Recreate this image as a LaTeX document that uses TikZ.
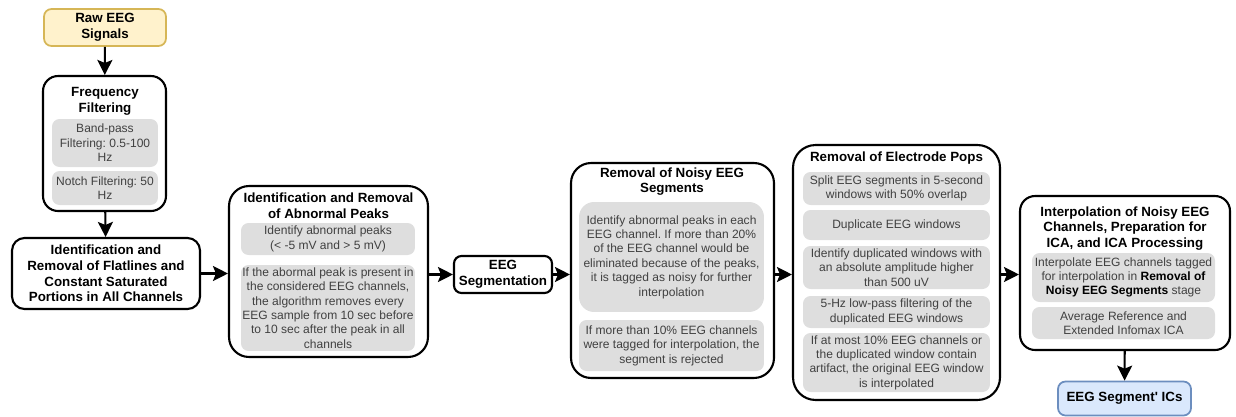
\documentclass[tikz,border=0pt]{standalone}
\usepackage{fontspec}
\setmainfont{Liberation Sans}[Ligatures=TeXOff]
\usetikzlibrary{arrows.meta}

\definecolor{rawfill}{HTML}{FFF2CC}
\definecolor{rawline}{HTML}{D6B656}
\definecolor{icfill}{HTML}{DAE8FC}
\definecolor{icline}{HTML}{6C8EBF}
\definecolor{stepgray}{HTML}{DEDEDE}
\definecolor{steptext}{HTML}{404040}

\newcommand{\ttl}{\fontsize{7.6}{8.9}\selectfont\bfseries}
\newcommand{\bdy}{\fontsize{6.85}{8.2}\selectfont}
\frenchspacing

\begin{document}
\begin{tikzpicture}[x=0.02cm,y=-0.02cm,>={Stealth[length=3mm,width=3mm,inset=0.6mm]},
  stage/.style={draw,line width=1.2pt,rounded corners=0.3cm,inner sep=0pt},
  small/.style={draw,line width=1.2pt,rounded corners=0.15cm,inner sep=0pt,align=center,font=\ttl},
  title/.style={align=center,font=\ttl,inner sep=0pt},
  sub/.style={fill=stepgray,rounded corners=0.15cm,inner sep=0pt,align=center,font=\bdy,text=steptext},
  arr/.style={->,line width=1.2pt}]
\useasboundingbox (0,0) rectangle (1236,416);

% raw signals
\node[small,draw=rawline,fill=rawfill,line width=1pt,minimum width=2.44cm,minimum height=0.74cm] (raw) at (105,27.5) {Raw EEG\\Signals};

% frequency filtering
\node[stage,minimum width=2.46cm,minimum height=2.7cm] (freq) at (104.5,143.5) {};
\node[title] (freqt) at (105,101) {Frequency\\Filtering};
\node[sub,minimum width=2.12cm,minimum height=0.96cm] (bandpass) at (105,143) {Band-pass\\Filtering: 0.5-100\\Hz};
\node[sub,minimum width=2.12cm,minimum height=0.68cm] (notch) at (105,188) {Notch Filtering: 50\\Hz};

% flatlines
\node[small,rounded corners=0.25cm,minimum width=3.76cm,minimum height=1.42cm] (flat) at (106,273.5) {Identification and\\Removal of Flatlines and\\Constant Saturated\\Portions in All Channels};

% abnormal peaks
\node[stage,rounded corners=0.4cm,minimum width=3.98cm,minimum height=3.42cm] (peaks) at (328.5,271.5) {};
\node[title] (peakst) at (328.5,205.5) {Identification and Removal\\of Abnormal Peaks};
\node[sub,minimum width=3.48cm,minimum height=0.64cm] (peaks1) at (328,239) {Identify abnormal peaks\\ (< -5 mV and > 5 mV)};
\node[sub,minimum width=3.48cm,minimum height=1.72cm] (peaks2) at (328,308) {If the abormal peak is present in\\the considered EEG channels,\\the algorithm removes every\\EEG sample from 10 sec before\\to 10 sec after the peak in all\\channels};

% segmentation
\node[small,minimum width=1.96cm,minimum height=0.74cm] (seg) at (503,274.5) {EEG\\Segmentation};

% noisy segments
\node[stage,rounded corners=0.4cm,minimum width=4.06cm,minimum height=4.3cm] (noisy) at (672.5,270.5) {};
\node[title] (noisyt) at (672,181.5) {Removal of Noisy EEG\\Segments};
\node[sub,rounded corners=0.3cm,minimum width=3.7cm,minimum height=2.2cm] (noisy1) at (671.5,257) {Identify abnormal peaks in each\\EEG channel. If more than 20\%\\of the EEG channel would be\\eliminated because of the peaks,\\it is tagged as noisy for further\\interpolation};
\node[sub,minimum width=3.7cm,minimum height=1.02cm] (noisy2) at (671.5,345.5) {If more than 10\% EEG channels\\were tagged for interpolation, the\\segment is rejected};

% electrode pops
\node[stage,rounded corners=0.45cm,minimum width=4.14cm,minimum height=5.1cm] (pops) at (896.5,272.5) {};
\node[title] (popst) at (896.5,158) {Removal of Electrode Pops};
\node[sub,minimum width=3.74cm,minimum height=0.66cm] (pops1) at (896.5,188.5) {Split EEG segments in 5-second\\windows with 50\% overlap};
\node[sub,minimum width=3.74cm,minimum height=0.6cm] (pops2) at (896.5,225) {Duplicate EEG windows};
\node[sub,minimum width=3.74cm,minimum height=0.86cm] (pops3) at (896.5,267.5) {Identify duplicated windows with\\an absolute amplitude higher\\than 500 uV};
\node[sub,minimum width=3.74cm,minimum height=0.64cm] (pops4) at (896.5,312) {5-Hz low-pass filtering of the\\duplicated EEG windows};
\node[sub,minimum width=3.74cm,minimum height=1.18cm] (pops5) at (896.5,362.5) {If at most 10\% EEG channels or\\the duplicated window contain\\artifact, the original EEG window\\is interpolated};

% interpolation and ICA
\node[stage,minimum width=4.2cm,minimum height=3.08cm] (interp) at (1125,273) {};
\node[title] (interpt) at (1125,228.5) {Interpolation of Noisy EEG\\Channels, Preparation for\\ICA, and ICA Processing};
\node[sub,minimum width=3.66cm,minimum height=0.98cm] (interp1) at (1123.5,277.5) {Interpolate EEG channels tagged\\for interpolation in \textcolor{black}{\textbf{Removal of}}\\\textcolor{black}{\textbf{Noisy EEG Segments}} stage};
\node[sub,minimum width=3.66cm,minimum height=0.64cm] (interp2) at (1123.5,323) {Average Reference and\\Extended Infomax ICA};

% output
\node[small,draw=icline,fill=icfill,line width=1pt,minimum width=2.66cm,minimum height=0.68cm] (ics) at (1124.5,398.5) {EEG Segment' ICs};

\draw[arr] (raw) -- (freq);
\draw[arr] (freq) -- (flat);
\draw[arr] (flat.east) -- (flat.east -| peaks.west);
\draw[arr] (peaks.east |- seg.west) -- (seg.west);
\draw[arr] (seg.east) -- (seg.east -| noisy.west);
\draw[arr] (seg.east -| noisy.east) -- (seg.east -| pops.west);
\draw[arr] (seg.east -| pops.east) -- (seg.east -| interp.west);
\draw[arr] (interp) -- (ics);
\end{tikzpicture}
\end{document}
